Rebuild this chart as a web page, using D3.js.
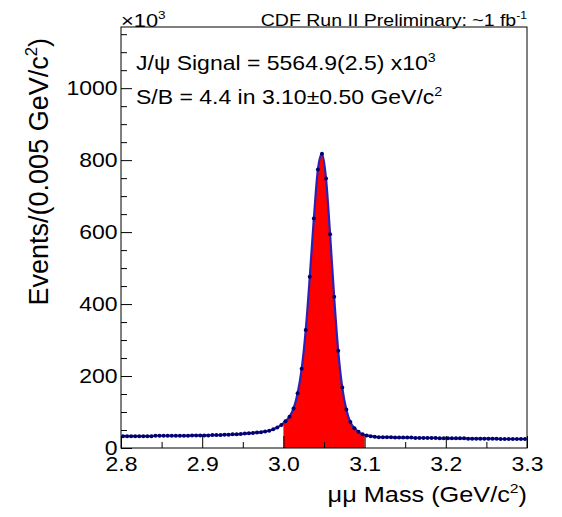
<!DOCTYPE html>
<html>
<head>
<meta charset="utf-8">
<script src="https://cdn.jsdelivr.net/npm/d3@7"></script>
<style>
  body { margin: 0; background: #fff; }
  svg { display: block; font-family: "Liberation Sans", Arial, sans-serif; }
</style>
</head>
<body>
<svg id="chart"></svg>
<script>
// histogram binning (GeV/c^2)
const massLow = 2.8;
const binWidth = 0.005;

// events per bin (x10^3)
const counts = [
  33, 33, 33, 33, 33, 33, 33, 33, 34, 34,
  34, 34, 34, 34, 34, 34, 34, 35, 35, 35,
  35, 35, 36, 36, 36, 37, 37, 38, 38, 39,
  40, 41, 42, 43, 44, 46, 48, 52, 57, 64,
  74, 87, 110, 152, 220, 328, 476, 638, 774, 818,
  749, 594, 420, 270, 168, 107, 72, 55, 45, 38,
  35, 33, 31, 30, 30, 30, 30, 29, 29, 29,
  29, 29, 28, 28, 28, 28, 28, 28, 27, 27,
  27, 27, 27, 27, 27, 26, 26, 26, 26, 26,
  26, 26, 26, 25, 25, 25, 25, 25, 25, 25
];

// signal window shaded in red
const signalWindow = [3.0, 3.1];

const xTicks = [2.8, 2.9, 3.0, 3.1, 3.2, 3.3];
const xMinor = [2.85, 2.95, 3.05, 3.15, 3.25];
const yTicks = [0, 200, 400, 600, 800, 1000];
const yMinor = [50, 100, 150, 250, 300, 350, 450, 500, 550, 650, 700, 750, 850, 900, 950, 1050, 1100, 1150];

const width = 562;
const height = 517;
const margin = { top: 27, right: 35, bottom: 69, left: 121 };
const sx = 1.15; // horizontal stretch of the lettering

const data = counts.map((c, i) => ({ m: massLow + binWidth * (i + 0.5), n: c }));

const svg = d3.select("#chart").attr("width", width).attr("height", height);

const x = d3.scaleLinear().domain([2.8, 3.3]).range([margin.left, width - margin.right]);
const y = d3.scaleLinear().domain([0, 1170]).range([height - margin.bottom, margin.top]);

// red signal area
svg.append("clipPath").attr("id", "sig")
  .append("rect")
  .attr("x", x(signalWindow[0]))
  .attr("y", margin.top)
  .attr("width", x(signalWindow[1]) - x(signalWindow[0]))
  .attr("height", y(0) - margin.top);

const curve = d3.curveMonotoneX;

svg.append("path")
  .datum(data)
  .attr("clip-path", "url(#sig)")
  .attr("fill", "#ff0000")
  .attr("d", d3.area().x(d => x(d.m)).y0(y(0)).y1(d => y(d.n)).curve(curve));

// fit line
svg.append("path")
  .datum(data)
  .attr("fill", "none")
  .attr("stroke", "#2a22b8")
  .attr("stroke-width", 2.2)
  .attr("d", d3.line().x(d => x(d.m)).y(d => y(d.n)).curve(curve));

// data points
svg.append("g").selectAll("circle")
  .data(data)
  .enter().append("circle")
  .attr("cx", d => x(d.m))
  .attr("cy", d => y(d.n))
  .attr("r", 2)
  .attr("fill", "#000070");

// axes with inward ticks
function styleAxis(g) {
  g.select(".domain").remove();
  g.selectAll("line").attr("stroke", "#000");
}

svg.append("g")
  .attr("transform", `translate(0,${y(0)})`)
  .call(d3.axisBottom(x).tickValues(xMinor).tickSize(-6).tickFormat(""))
  .call(styleAxis);

const gx = svg.append("g")
  .attr("transform", `translate(0,${y(0)})`)
  .call(d3.axisBottom(x).tickValues(xTicks).tickSize(-12).tickPadding(4).tickFormat(d3.format(".1f")))
  .call(styleAxis);
gx.selectAll("text")
  .attr("font-size", 20)
  .attr("font-family", "Liberation Sans, Arial, sans-serif")
  .attr("fill", "#000")
  .attr("dy", "0.95em")
  .attr("transform", `scale(${sx},1)`);

svg.append("g")
  .attr("transform", `translate(${x(2.8)},0)`)
  .call(d3.axisLeft(y).tickValues(yMinor).tickSize(-6).tickFormat(""))
  .call(styleAxis);

const gy = svg.append("g")
  .attr("transform", `translate(${x(2.8)},0)`)
  .call(d3.axisLeft(y).tickValues(yTicks).tickSize(-11).tickPadding(3).tickFormat(d3.format("d")))
  .call(styleAxis);
gy.selectAll("text")
  .attr("font-size", 20)
  .attr("font-family", "Liberation Sans, Arial, sans-serif")
  .attr("fill", "#000")
  .attr("transform", `scale(${sx},1)`);

// frame
svg.append("rect")
  .attr("x", margin.left)
  .attr("y", margin.top)
  .attr("width", width - margin.left - margin.right)
  .attr("height", height - margin.top - margin.bottom)
  .attr("fill", "none")
  .attr("stroke", "#000")
  .attr("stroke-width", 1);

// text helper: parts = [[string, isSuperscript], ...]
function label(px, py, parts, size, anchor, rotate) {
  const g = svg.append("g")
    .attr("transform", rotate
      ? `translate(${px},${py}) rotate(-90)`
      : `translate(${px},${py}) scale(${sx},1)`);
  const t = g.append("text")
    .attr("font-size", size)
    .attr("text-anchor", anchor)
    .attr("fill", "#000");
  parts.forEach(([s, sup]) => {
    const ts = t.append("tspan").text(s);
    if (sup) ts.attr("font-size", size * 0.62).attr("dy", -size * 0.42);
    else if (t.selectAll("tspan").size() > 1) ts.attr("dy", size * 0.42);
  });
  return t;
}

label(margin.left, 27, [["×10", false], ["3", true]], 19, "start");
label(width - margin.right, 26, [["CDF Run II Preliminary: ~1 fb", false], ["-1", true]], 17, "end");
label(136, 70, [["J/ψ Signal = 5564.9(2.5) x10", false], ["3", true]], 20, "start");
label(136, 104, [["S/B = 4.4 in 3.10±0.50 GeV/c", false], ["2", true]], 20, "start");
label(width - margin.right, 502, [["μμ Mass (GeV/c", false], ["2", true], [")", false]], 22, "end");
label(48, 38, [["Events/(0.005 GeV/c", false], ["2", true], [")", false]], 27, "end", true);
</script>
</body>
</html>
